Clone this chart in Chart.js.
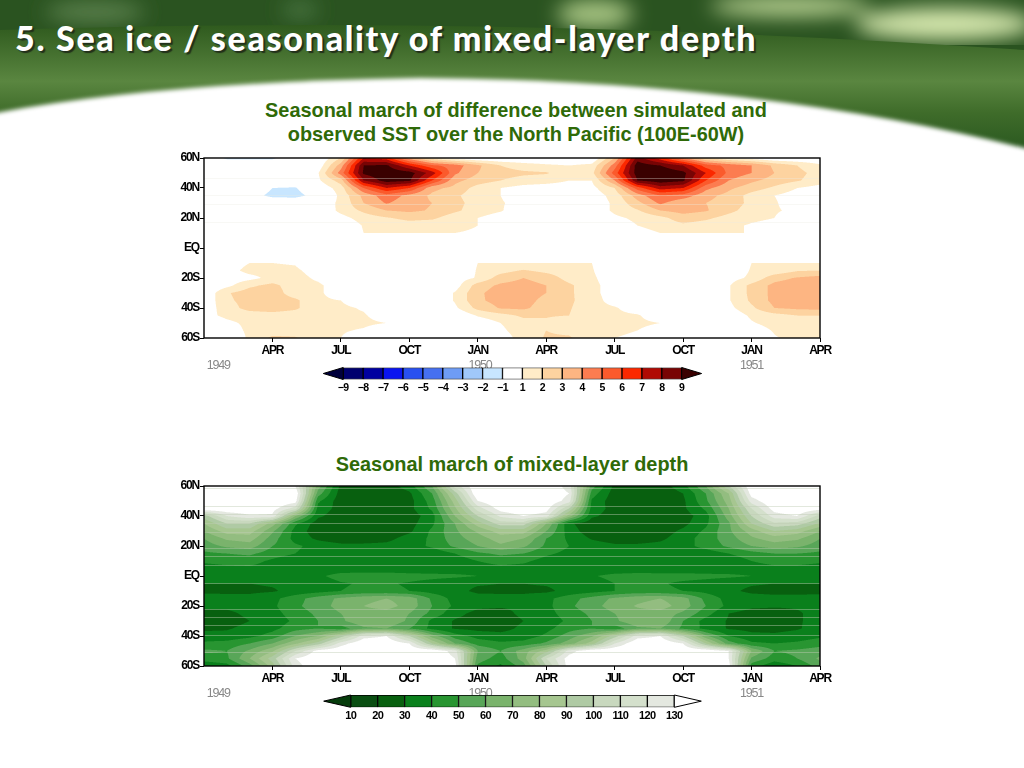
<!DOCTYPE html>
<html><head><meta charset="utf-8">
<script src="https://cdn.jsdelivr.net/npm/chart.js@4"></script>
<style>
html,body{margin:0;padding:0;background:#fff;width:1024px;height:768px;overflow:hidden}
#bg{position:absolute;left:0;top:0}
canvas{position:absolute}
#head{position:absolute;left:15px;top:17px;font:900 34px Lato,"Open Sans",sans-serif;color:#fff;text-shadow:2px 2px 1px #22301a;white-space:nowrap;letter-spacing:1.7px}
.ttl{position:absolute;text-align:center;font:700 19.9px/24px "Liberation Sans",Arial,sans-serif;color:#2f6a08;white-space:nowrap}
</style></head><body>
<svg id="bg" width="1024" height="190" viewBox="0 0 1024 190">
<defs>
<linearGradient id="g1" gradientUnits="userSpaceOnUse" x1="0" y1="25" x2="0" y2="150"><stop offset="0" stop-color="#2f5a1e"/><stop offset=".45" stop-color="#5a8640"/><stop offset=".7" stop-color="#3f6c2a"/><stop offset="1" stop-color="#2a5820"/></linearGradient>
<filter id="b3"><feGaussianBlur stdDeviation="2.2"/></filter>
<filter id="b8"><feGaussianBlur stdDeviation="10"/></filter>
</defs>
<rect x="0" y="0" width="1024" height="185" fill="#2a5320"/>
<g filter="url(#b8)">
<ellipse cx="95" cy="12" rx="50" ry="10" fill="#5d8350"/>
<ellipse cx="300" cy="10" rx="18" ry="8" fill="#4c7845"/>
<ellipse cx="595" cy="14" rx="38" ry="14" fill="#a9c684"/>
<ellipse cx="790" cy="6" rx="80" ry="10" fill="#c0d898"/>
<ellipse cx="945" cy="24" rx="90" ry="16" fill="#d6e8ae"/>
</g>
<path d="M0,30 Q500,14 1024,50 L1024,190 L0,190 Z" fill="url(#g1)"/>
<path d="M-20,116 Q150,82 420,78 Q760,80 1040,152 L1040,200 L-20,200 Z" fill="#fff" filter="url(#b3)"/>
</svg>
<div id="head">5. Sea ice / seasonality of mixed-layer depth</div>
<div class="ttl" style="left:216px;width:600px;top:98px">Seasonal march of difference between simulated and<br>observed SST over the North Pacific (100E-60W)</div>
<div class="ttl" style="left:212px;width:600px;top:452px">Seasonal march of mixed-layer depth</div>
<canvas id="c1" width="700" height="232" style="left:150px;top:148px;width:700px;height:232px"></canvas>
<canvas id="c2" width="700" height="232" style="left:150px;top:476px;width:700px;height:232px"></canvas>
<canvas id="k1" width="430" height="34" style="left:300px;top:362px;width:430px;height:34px"></canvas>
<canvas id="k2" width="430" height="34" style="left:300px;top:690px;width:430px;height:34px"></canvas>
<script>
// Axis labels
const monthTicks=[3,6,9,12,15,18,21,24,27];
const monthLabels=['APR','JUL','OCT','JAN','APR','JUL','OCT','JAN','APR'];
const yearTicks=[0.62,12.1,24];
const yearLabels=['1949','1950','1951'];
const latTicks=[-60,-40,-20,0,20,40,60];
const latLabels=['60S','40S','20S','EQ','20N','40N','60N'];
const latNodes=[60,55,50,45,40,35,30,25,20,15,10,5,0,-5,-10,-15,-20,-25,-30,-35,-40,-45,-50,-55,-60];

// SST difference, one array per latitude, months 0..27 from Jan 1949
const sst60N=[0,-1.2,-1.2,-1.2,0,0,2,7,6.5,3.5,1.5,.5,0,0,0,0,0,0,3,8.5,6.5,4,2,1,.5,0,0,0];
const sst55N=[0,0,0,0,0,.3,3.5,9,9.2,7,5.2,4.5,3.2,2,1.5,1.2,1,1.3,4.5,9.6,9,8,5.5,4.7,4,2.8,2,1.2];
const sst50N=[0,0,0,0,0,.9,4.5,9.2,9.8,9.5,7.5,4.2,3,2.4,2.2,2.1,1.4,1.7,5.5,9.6,9.8,9.3,7,4.7,4,3,2.3,1.6];
const sst45N=[0,0,0,0,0,.8,2.5,8,9.5,9.2,6,3.3,2.5,2,1.6,1.4,1,1,4,9,9.6,9.2,6,4,3.2,2.6,2.1,1.5];
const sst40N=[0,0,0,-1,-1.1,.2,1.5,5,7,6,3.3,2.7,1.6,1,.6,.5,.5,.7,2,5.5,7.5,7,4.3,3.2,2.5,1.8,1,.6];
const sst35N=[0,0,-.5,-1.3,-1.4,-.5,1.3,3.3,4.6,3.7,2.8,2.2,1.4,1,.3,0,0,.4,1.4,3.5,5,4.6,3.3,2.7,1.6,1,.5,0];
const sst30N=[0,0,0,0,0,.4,1.2,3,4.1,3.4,3,2.3,1.6,1.1,.6,0,0,.3,1.2,2.7,4.2,3.2,3,2.6,1.7,1.1,.5,.3];
const sst25N=[0,0,0,0,0,0,1.3,2.2,3,3.2,2.9,2.2,1.5,1.1,.3,0,0,.3,1.2,1.9,3,3.4,3.1,2.3,1.5,1.1,.8,.3];
const sst20N=[0,0,0,0,0,0,.6,1.5,1.9,2.3,2.2,1.4,1,.5,0,0,0,0,.8,1.2,1.7,2.5,2.2,1.6,1.2,1,.4,0];
const sst15N=[0,0,0,0,0,0,0,1.1,1.3,1.5,1.3,1.2,1,.2,0,0,0,.4,.5,1,1.4,1.8,1.5,1.2,.9,.7,.2,0];
const sst10N=[0,0,0,0,0,0,0,1,1,1,1,1,.9,0,0,0,0,1,1,.6,1,1,1,1,1,.5,0,0];
const sst05N=[0,0,0,0,0,0,0,0,0,0,0,0,0,0,0,0,0,0,0,0,0,0,0,0,0,0,0,0];
const sstEQ =[0,0,0,0,0,0,0,0,0,0,0,0,0,0,0,0,0,0,0,0,0,0,0,0,0,0,0,0];
const sst05S=[0,0,0,0,0,0,0,0,0,0,0,0,0,0,0,0,0,0,0,0,0,0,0,0,0,0,0,0];
const sst10S=[0,.5,1,1,.9,0,0,0,0,0,0,0,1,1,1,1,1,1,0,0,0,0,0,0,1,1,1,1];
const sst15S=[0,.6,1.3,1.3,1.2,.5,0,0,0,0,0,0,1.1,1.6,2.1,1.7,1.4,1.1,0,0,0,0,0,.2,1.1,1.3,1.9,2];
const sst20S=[0,.4,.7,1.3,1.4,.8,0,0,0,0,0,.5,1.1,2.5,3,2.6,1.6,1.2,.3,0,0,0,0,.6,1.2,2.6,3.1,3.4];
const sst25S=[0,.7,1.8,2.3,1.4,1.2,.4,0,0,0,0,.5,2.5,3.2,3.4,3,2.2,1.3,.5,0,0,0,0,.9,2.3,3.3,3.6,3.5];
const sst30S=[.1,1.9,2.5,2.5,1.5,1.2,.4,0,0,0,0,1.1,2.8,3.5,3.5,3,2.2,1.3,.5,0,0,0,0,.9,2.3,3.3,3.6,3.5];
const sst35S=[.2,1.8,2.4,2.5,2.2,1.2,1,.3,0,0,0,1.1,2.8,3.4,3.4,2.7,2.2,1.4,.6,0,0,0,0,.9,2.2,3.3,3.5,3.5];
const sst40S=[.4,1.5,2.4,2.6,2.2,1.2,1.2,.9,0,0,0,.8,2.3,3.1,3.2,2.5,2.1,1.3,1.1,.5,0,0,0,.7,1.8,3,3.2,3.3];
const sst45S=[.7,1.2,1.4,1.5,1.4,1.3,1.2,1.1,.5,0,0,0,1.1,1.6,2.2,2.1,2,1.3,1.2,1.1,.4,0,0,.2,1.2,1.6,2,2];
const sst50S=[.3,.8,1.2,1.3,1.3,1.2,1.2,1.2,1,.3,0,0,.3,1,1.6,1.8,1.3,1.3,1.2,1.2,1,.3,0,0,.9,1.4,1.9,2];
const sst55S=[0,.5,1.2,1.5,1.5,1.3,1.1,.9,.3,0,0,0,.2,.8,1.5,2,1.8,1.2,1.1,1,.6,.2,0,0,.4,1.1,1.8,2];
const sst60S=[0,0,1.2,2.2,2.1,1.3,1,.4,0,0,0,0,0,.5,1.4,2.1,2.1,1.5,1,.9,.3,0,0,0,0,.9,1.3,1.5];

// Mixed-layer depth, one array per latitude
const mld60N=[140,140,140,140,130,65,27,25,25,35,60,115,140,140,140,140,125,55,27,25,25,36,60,100,140,140,140,140];
const mld55N=[140,140,140,140,140,55,25,22,22,28,50,95,140,140,140,140,130,45,25,22,22,30,50,80,135,140,140,140];
const mld50N=[140,140,140,140,135,42,24,20,20,26,45,85,130,140,140,140,125,38,24,20,20,28,48,75,125,140,140,140];
const mld45N=[140,140,140,135,115,36,26,22,22,27,42,78,115,135,140,135,100,36,26,22,22,28,42,70,110,135,140,135];
const mld40N=[95,120,128,128,70,32,24,22,22,24,36,70,100,122,130,125,75,32,25,22,22,25,36,65,100,125,130,105];
const mld35N=[80,100,100,75,42,24,23,22,22,26,38,60,85,105,105,70,32,23,23,22,23,27,38,58,90,108,105,88];
const mld30N=[70,85,85,62,36,24,23,22,23,28,42,58,72,85,85,60,35,24,23,23,25,32,42,58,75,90,85,70];
const mld25N=[60,72,75,55,36,28,24,24,27,34,42,56,65,75,70,50,38,29,25,25,28,35,45,55,68,75,72,60];
const mld20N=[55,62,65,50,42,36,33,33,33,35,42,52,60,68,62,48,40,35,32,32,33,36,44,52,60,65,62,55];
const mld15N=[48,50,52,45,40,35,33,38,33,31,33,40,48,52,50,42,37,34,35,38,32,32,34,40,46,50,50,48];
const mld10N=[42,44,44,38,33,30,32,36,32,30,30,34,40,44,42,36,32,30,33,36,30,30,30,33,40,44,44,42];
const mld05N=[35,37,38,35,33,33,34,34,34,33,33,34,35,37,36,34,33,33,33,34,33,33,33,34,35,37,37,35];
const mldEQ =[32,33,33,34,36,38,44,45,45,44,43,42,40,34,33,33,35,39,43,44,44,44,43,42,40,33,33,32];
const mld05S=[30,30,30,31,32,34,39,41,41,39,36,33,31,30,30,31,33,35,40,41,41,38,36,33,31,30,30,30];
const mld10S=[28,28,28,29,33,36,40,42,42,40,36,33,28,28,28,28,33,36,40,43,42,40,37,32,28,27,27,27];
const mld15S=[34,33,33,37,46,55,62,67,70,66,48,36,34,33,33,37,46,54,62,67,70,64,47,36,34,33,33,34];
const mld20S=[32,32,33,38,48,55,64,70,74,66,50,38,32,31,31,37,48,56,65,71,75,65,50,37,32,31,31,31];
const mld25S=[27,28,32,36,45,52,60,66,66,60,47,33,27,27,32,36,45,52,60,66,66,58,44,30,26,26,29,33];
const mld30S=[26,26,30,34,42,50,58,68,68,58,37,29,26,25,30,34,42,50,58,68,68,50,36,29,25,25,29,33];
const mld35S=[28,29,33,37,46,50,45,58,60,50,37,29,27,27,32,37,46,50,44,58,60,48,37,29,27,27,29,34];
const mld40S=[34,33,37,44,60,70,95,125,130,100,65,45,36,33,34,42,55,68,95,125,130,100,62,40,33,32,34,38];
const mld45S=[42,44,50,60,78,95,125,140,140,130,90,60,46,42,44,52,65,85,120,140,140,130,90,55,42,40,42,46];
const mld50S=[52,50,62,78,110,135,140,140,140,140,140,125,60,50,65,85,125,140,140,140,140,140,140,130,70,50,52,55];
const mld55S=[45,48,70,95,130,140,140,140,140,140,140,130,55,45,65,110,135,140,140,140,140,140,140,130,58,45,50,62];
const mld60S=[32,36,55,85,125,140,140,140,140,140,140,135,48,38,55,100,135,140,140,140,140,140,140,135,45,32,40,55];

const sstRows=[sst60N,sst55N,sst50N,sst45N,sst40N,sst35N,sst30N,sst25N,sst20N,sst15N,sst10N,sst05N,sstEQ,sst05S,sst10S,sst15S,sst20S,sst25S,sst30S,sst35S,sst40S,sst45S,sst50S,sst55S,sst60S];
const mldRows=[mld60N,mld55N,mld50N,mld45N,mld40N,mld35N,mld30N,mld25N,mld20N,mld15N,mld10N,mld05N,mldEQ,mld05S,mld10S,mld15S,mld20S,mld25S,mld30S,mld35S,mld40S,mld45S,mld50S,mld55S,mld60S];

// Contour levels and colours
const sstLevels=[-9,-8,-7,-6,-5,-4,-3,-2,-1,1,2,3,4,5,6,7,8,9];
const sstColors=['#00003c','#00006e','#0000a0','#0a14f0','#2850f0','#4670f0','#6e9cf5','#a0c8fa','#c8e6ff','#ffffff','#ffecc8','#fdd3a0','#fdb582','#fc7c50','#fb5a2c','#fb2800','#b00a04','#780404','#3a0000'];
const mldLevels=[10,20,30,40,50,60,70,80,90,100,110,120,130];
const mldColors=['#063c0c','#0a4e12','#08600f','#0a801c','#289531','#58a658','#7ab36c','#93bd80','#a6c690','#afcaa4','#c8d8be','#d4e0cc','#e4e8e0','#ffffff'];
// Faint horizontal streaks seen across the maps
const sstStreaks=[46.4,35,29,17];
const mldStreaks=[58.2,46.4,41.3,35.3,29.3,18.2,12.7,6.7,-4.9,-22,-27.6,-33.3,-39.6,-50.7];

const SANS='"Liberation Sans",Arial,sans-serif';
const hex=c=>[parseInt(c.slice(1,3),16),parseInt(c.slice(3,5),16),parseInt(c.slice(5,7),16)];
const bandOf=(v,levels)=>{let i=0;while(i<levels.length&&v>=levels[i])i++;return i;};

const squeeze={id:'squeeze',beforeDraw(chart,args,o){chart.ctx.letterSpacing=o.spacing||'-1.2px';}};
const contourFill={id:'contourFill',afterDatasetsDraw(chart,args,o){
  const {ctx,chartArea:a,scales:{x,y}}=chart;
  const r=chart.currentDevicePixelRatio||1;
  const W=Math.round(a.width*r),H=Math.round(a.height*r),X0=Math.round(a.left*r),Y0=Math.round(a.top*r);
  const img=ctx.createImageData(W,H),rgb=o.colors.map(hex),rows=o.rows,ss=[.17,.5,.83];
  const nr=rows.length-1,nc=rows[0].length-1;
  const colOf=p=>Math.max(0,Math.min(nc,x.getValueForPixel((X0+p)/r)));
  const rowOf=p=>Math.max(0,Math.min(nr,(60-y.getValueForPixel((Y0+p)/r))/5));
  for(let j=0;j<H;j++)for(let i=0;i<W;i++){
    let R=0,G=0,B=0;
    for(const sy of ss)for(const sx of ss){
      const u=colOf(i+sx),v=rowOf(j+sy);
      const c0=Math.min(nc-1,Math.floor(u)),r0=Math.min(nr-1,Math.floor(v)),fu=u-c0,fv=v-r0;
      const val=(rows[r0][c0]*(1-fu)+rows[r0][c0+1]*fu)*(1-fv)+(rows[r0+1][c0]*(1-fu)+rows[r0+1][c0+1]*fu)*fv;
      const col=rgb[bandOf(val,o.levels)];R+=col[0];G+=col[1];B+=col[2];
    }
    const k=(j*W+i)*4;img.data[k]=R/9;img.data[k+1]=G/9;img.data[k+2]=B/9;img.data[k+3]=255;
  }
  ctx.putImageData(img,X0,Y0);
}};
const frame={id:'frame',afterDraw(chart){
  const {ctx,chartArea:a}=chart;ctx.save();ctx.strokeStyle='#000';ctx.lineWidth=1.4;
  ctx.strokeRect(a.left,a.top,a.width,a.height);ctx.restore();
}};

function mapChart(id,rows,levels,colors,streaks,streakColor){
  const datasets=rows.map((row,r)=>({
    data:row.map((v,m)=>({x:m,y:[latNodes[r]-2.5,latNodes[r]+2.5]})),
    backgroundColor:row.map(v=>colors[bandOf(v,levels)]),
    barPercentage:1,categoryPercentage:1,grouped:false,borderWidth:0
  }));
  return new Chart(document.getElementById(id),{type:'bar',data:{datasets},plugins:[squeeze,contourFill,frame],options:{
    responsive:false,animation:false,devicePixelRatio:1,
    layout:{padding:{left:0,right:30,top:10,bottom:0}},
    plugins:{legend:{display:false},tooltip:{enabled:false},contourFill:{rows,levels,colors},squeeze:{spacing:'-1.2px'}},
    scales:{
      x:{type:'linear',min:0,max:27,offset:false,weight:0,
        afterBuildTicks:s=>{s.ticks=monthTicks.map(v=>({value:v}));},
        afterFit:s=>{s.height=20;},
        grid:{offset:false,drawOnChartArea:false,tickLength:4,tickColor:'#000',tickWidth:1},border:{display:false},
        ticks:{autoSkip:false,maxRotation:0,padding:1,color:'#000',font:{family:SANS,size:12,weight:'bold'},
          callback:(v,i)=>monthLabels[i]}},
      xYear:{type:'linear',min:0,max:27,offset:false,position:'bottom',weight:1,
        afterBuildTicks:s=>{s.ticks=yearTicks.map(v=>({value:v}));},
        afterFit:s=>{s.height=22;},
        grid:{offset:false,display:false,drawTicks:false},border:{display:false},
        ticks:{autoSkip:false,maxRotation:0,padding:0,color:'#888',font:{family:SANS,size:12.5},
          callback:(v,i)=>yearLabels[i]}},
      y:{type:'linear',min:-60,max:60,position:'left',
        afterBuildTicks:s=>{s.ticks=latTicks.map(v=>({value:v}));},
        afterFit:s=>{s.width=54;},
        grid:{drawOnChartArea:false,tickLength:4,tickColor:'#000',tickWidth:1},border:{display:false},
        ticks:{padding:1,color:'#000',font:{family:SANS,size:12,weight:'bold'},callback:(v,i)=>latLabels[i]}},
      yStreak:{type:'linear',min:-60,max:60,position:'right',
        afterBuildTicks:s=>{s.ticks=streaks.map(v=>({value:v}));},
        afterFit:s=>{s.width=0;},
        grid:{z:1,color:streakColor,lineWidth:1,drawTicks:false},border:{display:false},
        ticks:{display:false}}
    }
  }});
}
mapChart('c1',sstRows,sstLevels,sstColors,sstStreaks,'rgba(235,235,225,.35)');
mapChart('c2',mldRows,mldLevels,mldColors,mldStreaks,'rgba(190,205,180,.45)');

const arrowEnds={id:'arrowEnds',afterDatasetsDraw(chart,args,o){
  const {ctx,chartArea:a,scales:{x}}=chart,mid=(a.top+a.bottom)/2;
  ctx.save();ctx.strokeStyle='#000';ctx.lineWidth=1;
  [[x.min,x.min+1,o.low],[x.max,x.max-1,o.high]].forEach(([t,b,c])=>{
    ctx.beginPath();ctx.moveTo(x.getPixelForValue(t),mid);ctx.lineTo(x.getPixelForValue(b),a.top);ctx.lineTo(x.getPixelForValue(b),a.bottom);ctx.closePath();
    ctx.fillStyle=c;ctx.fill();ctx.stroke();
  });
  ctx.restore();
}};
function colorKey(id,levels,colors,top,left,right,height,fontSize){
  const n=levels.length-1;
  const datasets=colors.slice(1,-1).map((c,i)=>({data:[{x:[i,i+1],y:'key'}],backgroundColor:c,borderColor:'#000',borderWidth:1,borderSkipped:false,barPercentage:1,categoryPercentage:1,grouped:false}));
  new Chart(document.getElementById(id),{type:'bar',data:{labels:['key'],datasets},plugins:[squeeze,arrowEnds],options:{
    indexAxis:'y',responsive:false,animation:false,devicePixelRatio:1,
    layout:{padding:{left,right,top,bottom:0}},
    plugins:{legend:{display:false},tooltip:{enabled:false},squeeze:{spacing:'-0.6px'},arrowEnds:{low:colors[0],high:colors[colors.length-1]}},
    scales:{
      x:{type:'linear',min:-1,max:n+1,offset:false,
        afterBuildTicks:s=>{s.ticks=levels.map((v,i)=>({value:i}));},
        afterFit:s=>{s.height=34-top-height;},
        grid:{display:false,drawTicks:false,offset:false},border:{display:false},
        ticks:{autoSkip:false,maxRotation:0,padding:2,color:'#000',font:{family:SANS,size:fontSize,weight:'bold'},
          callback:(v,i)=>String(levels[i]).replace('-','\u2212')}},
      y:{type:'category',display:false}
    }
  }});
}
colorKey('k1',sstLevels,sstColors,5.5,23.3,28.4,12,10.5);
colorKey('k2',mldLevels,mldColors,5,23.7,28.7,12.3,11);
</script>
</body></html>
